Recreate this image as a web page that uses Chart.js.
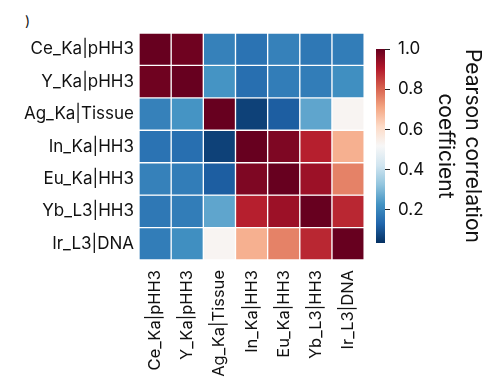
<!DOCTYPE html>
<html>
<head>
<meta charset="utf-8">
<script src="https://cdn.jsdelivr.net/npm/chart.js@4"></script>
<style>
  body { margin: 0; background: #fff; }
  #heat { position: absolute; left: 0; top: 0; width: 370px; height: 378px; }
  #cbar { position: absolute; left: 370px; top: 0; width: 134px; height: 378px; }
  #clip { position: absolute; left: 25px; top: 12px; font: 14px Inter, sans-serif; color: #111; }
</style>
</head>
<body>
<div id="clip">)</div>
<div id="heat"><canvas id="heatChart"></canvas></div>
<div id="cbar"><canvas id="cbarChart"></canvas></div>
<script>
const rowLabels = ["Ce_Ka|pHH3", "Y_Ka|pHH3", "Ag_Ka|Tissue", "In_Ka|HH3", "Eu_Ka|HH3", "Yb_L3|HH3", "Ir_L3|DNA"];
const colLabels = ["Ce_Ka|pHH3", "Y_Ka|pHH3", "Ag_Ka|Tissue", "In_Ka|HH3", "Eu_Ka|HH3", "Yb_L3|HH3", "Ir_L3|DNA"];
// pearson values
const ceRow = [1.00, 0.99, 0.19, 0.16, 0.19, 0.17, 0.18];
const yRow  = [0.99, 1.00, 0.23, 0.15, 0.18, 0.18, 0.22];
const agRow = [0.19, 0.23, 1.00, 0.065, 0.117, 0.262, 0.527];
const inRow = [0.16, 0.15, 0.065, 1.00, 0.971, 0.894, 0.691];
const euRow = [0.19, 0.18, 0.117, 0.971, 1.00, 0.932, 0.759];
const ybRow = [0.17, 0.18, 0.262, 0.894, 0.932, 1.00, 0.884];
const irRow = [0.18, 0.22, 0.527, 0.691, 0.759, 0.884, 1.00];
const matrix = [ceRow, yRow, agRow, inRow, euRow, ybRow, irRow];
const cbTicks = [0.2, 0.4, 0.6, 0.8, 1.0];
const vmin = 0.035;
const vmax = 1.0;

const font = "Inter, 'DejaVu Sans', sans-serif";

// RdBu_r
const stops = ["#053061", "#2166ac", "#4393c3", "#92c5de", "#d1e5f0", "#f7f7f7",
               "#fddbc7", "#f4a582", "#d6604d", "#b2182b", "#67001f"];

function hex(h) {
  return [parseInt(h.substr(1, 2), 16), parseInt(h.substr(3, 2), 16), parseInt(h.substr(5, 2), 16)];
}

function colorFor(v) {
  let t = (v - vmin) / (vmax - vmin);
  t = Math.max(0, Math.min(1, t));
  const p = t * (stops.length - 1);
  const i = Math.min(Math.floor(p), stops.length - 2);
  const f = p - i;
  const a = hex(stops[i]), b = hex(stops[i + 1]);
  const c = a.map((x, k) => Math.round(x + (b[k] - x) * f));
  return `rgb(${c[0]},${c[1]},${c[2]})`;
}

const datasets = matrix.map(function (row, r) {
  return {
    label: rowLabels[r],
    data: row.map(function () { return [r, r + 1]; }),
    backgroundColor: row.map(colorFor),
    borderColor: "#fff",
    borderWidth: 1,
    borderSkipped: false,
    grouped: false,
    barPercentage: 1,
    categoryPercentage: 1
  };
});

new Chart(document.getElementById("heatChart"), {
  type: "bar",
  data: { labels: colLabels, datasets: datasets },
  options: {
    responsive: true,
    maintainAspectRatio: false,
    animation: false,
    layout: { padding: { top: 33, right: 2, left: 0, bottom: 0 } },
    plugins: { legend: { display: false }, tooltip: { enabled: false } },
    scales: {
      x: {
        type: "category",
        grid: { display: false },
        border: { display: false },
        ticks: { color: "#111", font: { family: font, size: 16.5 }, maxRotation: 90, minRotation: 90, padding: 2 },
        afterFit: function (s) { s.height = 118; }
      },
      y: {
        type: "linear",
        min: 0,
        max: 7,
        reverse: true,
        grid: { display: false, drawTicks: false },
        border: { display: false },
        afterBuildTicks: function (s) {
          s.ticks = rowLabels.map(function (_, i) { return { value: i + 0.5 }; });
        },
        ticks: {
          color: "#111",
          font: { family: font, size: 17 },
          padding: 5,
          callback: function (v, i) { return rowLabels[i]; }
        },
        afterFit: function (s) { s.width = 139; }
      }
    }
  }
});

new Chart(document.getElementById("cbarChart"), {
  type: "bar",
  data: {
    labels: ["cb"],
    datasets: [{
      data: [[vmin, vmax]],
      backgroundColor: function (ctx) {
        const chart = ctx.chart;
        if (!chart.chartArea) return "#fff";
        const y = chart.scales.y;
        const g = chart.ctx.createLinearGradient(0, y.getPixelForValue(vmin), 0, y.getPixelForValue(vmax));
        stops.forEach(function (c, i) { g.addColorStop(i / (stops.length - 1), c); });
        return g;
      },
      borderWidth: 0,
      barPercentage: 1,
      categoryPercentage: 1
    }]
  },
  options: {
    responsive: true,
    maintainAspectRatio: false,
    animation: false,
    layout: { padding: { top: 49, bottom: 135, left: 6, right: 0 } },
    plugins: { legend: { display: false }, tooltip: { enabled: false } },
    scales: {
      x: { display: false },
      y: {
        position: "right",
        min: vmin,
        max: vmax,
        border: { display: false },
        grid: { drawOnChartArea: false, drawTicks: true, tickLength: 5, color: "#222" },
        afterBuildTicks: function (s) {
          s.ticks = cbTicks.map(function (v) { return { value: v }; });
        },
        ticks: {
          color: "#111",
          font: { family: font, size: 17 },
          padding: 8,
          callback: function (v) { return v.toFixed(1); }
        },
        title: {
          display: true,
          text: ["Pearson correlation", "coefficient"],
          color: "#111",
          font: { family: font, size: 21, lineHeight: 1.3 },
          padding: { top: 18, bottom: 0 }
        },
        afterFit: function (s) { s.width = 119; }
      }
    }
  }
});
</script>
</body>
</html>
